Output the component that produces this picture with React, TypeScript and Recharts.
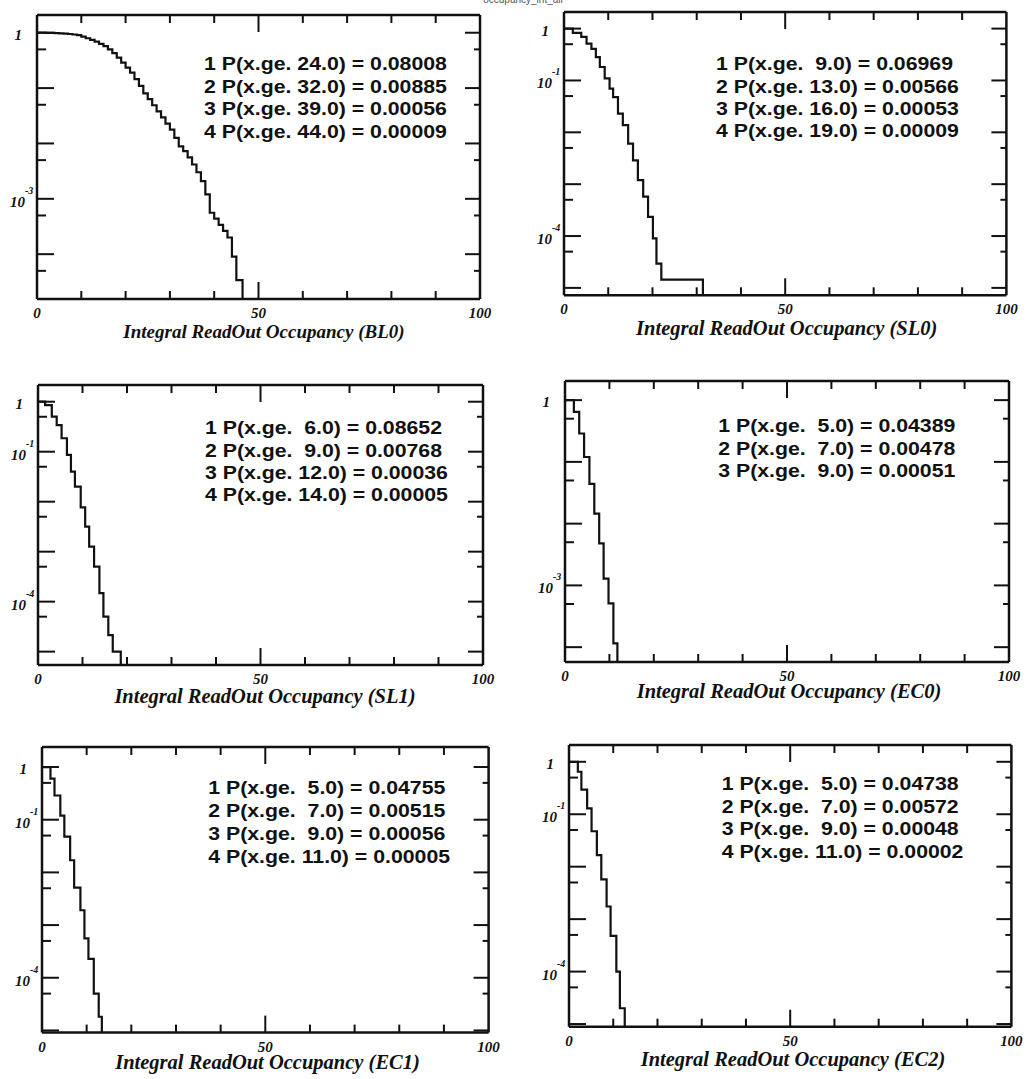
import React from 'react';
import { LineChart, Line, XAxis, YAxis } from 'recharts';

// value used for empty bins (zero entries) on the log axis
const FLOOR = 1e-9;

// ---------------- data: integral occupancy P(x >= bin), step edges ----------------
const BL0_X = [0,1,2,3,4,5,6,7,8,9,10,11,12,13,14,15,16,17,18,19,20,21,22,23,24,25,26,27,28,29,30,31,32,33,34,35,36,37,38,39,40,41,42,43,44,45,46.4];
const BL0_P = [1,1,0.995,0.991,0.984,0.975,0.964,0.948,0.929,0.902,0.851,0.794,0.741,0.692,0.631,0.575,0.501,0.427,0.355,0.288,0.234,0.191,0.145,0.110,0.08008,0.0631,0.0490,0.0380,0.0295,0.0229,0.0178,0.0126,0.00885,0.00724,0.00562,0.00417,0.00302,0.00209,0.00120,0.00056,0.000437,0.000339,0.000263,0.000200,0.00009,0.000034,0];

const SL0_X = [0,2.0,3.9,5.1,6.2,7.2,8.1,9.2,10.3,11.1,12.2,13.3,14.5,15.6,16.7,17.9,19.0,20.1,20.9,22.0,31.4];
const SL0_P = [1,0.83,0.692,0.513,0.407,0.282,0.182,0.110,0.06969,0.0479,0.0229,0.0138,0.00603,0.00288,0.00120,0.000575,0.000234,0.00009,0.0000295,0.0000145,0];

const SL1_X = [0,1.6,3.1,4.2,5.3,6.5,7.4,8.3,9.6,10.6,11.5,12.6,13.8,14.7,15.8,16.8,18.6];
const SL1_P = [1,0.851,0.501,0.339,0.186,0.08652,0.0398,0.0200,0.00768,0.00316,0.00126,0.0005,0.000148,0.00005,0.0000214,0.00001,0];

const EC0_X = [0,2.0,3.2,4.3,5.5,6.6,7.7,8.7,9.8,10.9,11.8];
const EC0_P = [1,0.646,0.288,0.120,0.04389,0.0145,0.00478,0.00129,0.00051,0.000115,0];

const EC1_X = [0,1.9,2.8,4.1,5.0,6.3,7.2,8.6,9.5,10.4,11.6,12.7,13.4];
const EC1_P = [1,0.603,0.288,0.120,0.04755,0.0170,0.00515,0.00191,0.00056,0.000229,0.00005,0.0000182,0];

const EC2_X = [0,2.0,2.8,4.1,5.1,6.3,7.3,8.5,9.4,10.7,11.5,12.6];
const EC2_P = [1,0.646,0.295,0.129,0.04738,0.0166,0.00572,0.00174,0.00048,0.0001,0.00002,0];

// ---------------- texts ----------------
const BL0_STATS = ['1 P(x.ge. 24.0) = 0.08008', '2 P(x.ge. 32.0) = 0.00885', '3 P(x.ge. 39.0) = 0.00056', '4 P(x.ge. 44.0) = 0.00009'];
const SL0_STATS = ['1 P(x.ge.  9.0) = 0.06969', '2 P(x.ge. 13.0) = 0.00566', '3 P(x.ge. 16.0) = 0.00053', '4 P(x.ge. 19.0) = 0.00009'];
const SL1_STATS = ['1 P(x.ge.  6.0) = 0.08652', '2 P(x.ge.  9.0) = 0.00768', '3 P(x.ge. 12.0) = 0.00036', '4 P(x.ge. 14.0) = 0.00005'];
const EC0_STATS = ['1 P(x.ge.  5.0) = 0.04389', '2 P(x.ge.  7.0) = 0.00478', '3 P(x.ge.  9.0) = 0.00051'];
const EC1_STATS = ['1 P(x.ge.  5.0) = 0.04755', '2 P(x.ge.  7.0) = 0.00515', '3 P(x.ge.  9.0) = 0.00056', '4 P(x.ge. 11.0) = 0.00005'];
const EC2_STATS = ['1 P(x.ge.  5.0) = 0.04738', '2 P(x.ge.  7.0) = 0.00572', '3 P(x.ge.  9.0) = 0.00048', '4 P(x.ge. 11.0) = 0.00002'];

const TITLE_PREFIX = 'Integral ReadOut Occupancy';
const PAGE_TITLE = 'occupancy_int_all';

// ---------------- axes ----------------
const X_TICKS = [0,10,20,30,40,50,60,70,80,90,100];
const X_LABELS = [0,50,100];
const Y_DECADES = [1,0.1,0.01,0.001,0.0001,0.00001,0.000001];
const Y_HALVES = [0.5,0.05,0.005,0.0005,0.00005,0.000005];

const SERIF = "'Liberation Serif','Times New Roman',Times,serif";
const SANS = "'Liberation Sans',Arial,Helvetica,sans-serif";

type PanelCfg = {
  name: string;
  x: number[];
  p: number[];
  stats: string[];
  labels: Record<number, string>; // decade exponent -> label
  frame: { l: number; t: number; r: number; b: number };
  yDomain: [number, number];
  statsPos: [number, number, number]; // left, first line center, spacing
  titlePos: [number, number, number]; // center x, center y, font size
};

const PANELS: PanelCfg[] = [
  { name: 'BL0', x: BL0_X, p: BL0_P, stats: BL0_STATS, labels: { 0: '1', [-3]: '-3' },
    frame: { l: 37, t: 15, r: 480, b: 299 }, yDomain: [1.55e-5, 2.09],
    statsPos: [204, 63.3, 22.5], titlePos: [264, 332, 19] },
  { name: 'SL0', x: SL0_X, p: SL0_P, stats: SL0_STATS, labels: { 0: '1', [-1]: '-1', [-4]: '-4' },
    frame: { l: 564.3, t: 11.7, r: 1006.7, b: 295 }, yDomain: [7.2e-6, 2.09],
    statsPos: [716, 63.3, 22.3], titlePos: [786.7, 329, 20.5] },
  { name: 'SL1', x: SL1_X, p: SL1_P, stats: SL1_STATS, labels: { 0: '1', [-1]: '-1', [-4]: '-4' },
    frame: { l: 38, t: 385, r: 483, b: 665 }, yDomain: [5.4e-6, 2.16],
    statsPos: [205, 427.3, 22.2], titlePos: [265, 697, 20.5] },
  { name: 'EC0', x: EC0_X, p: EC0_P, stats: EC0_STATS, labels: { 0: '1', [-3]: '-3' },
    frame: { l: 565, t: 380.7, r: 1009, b: 661.7 }, yDomain: [5.75e-5, 2.04],
    statsPos: [718.3, 425, 22.5], titlePos: [789, 692, 20.5] },
  { name: 'EC1', x: EC1_X, p: EC1_P, stats: EC1_STATS, labels: { 0: '1', [-1]: '-1', [-4]: '-4' },
    frame: { l: 41.7, t: 746.7, r: 488.3, b: 1032.3 }, yDomain: [9.1e-6, 2.4],
    statsPos: [208.3, 787.3, 22.8], titlePos: [267.5, 1063, 20.5] },
  { name: 'EC2', x: EC2_X, p: EC2_P, stats: EC2_STATS, labels: { 0: '1', [-1]: '-1', [-4]: '-4' },
    frame: { l: 569.3, t: 745, r: 1011.7, b: 1026.7 }, yDomain: [8.9e-6, 2.09],
    statsPos: [721.7, 783.3, 22.5], titlePos: [793, 1059.5, 20.5] },
];

const INK = '#111';

const isDecade = (v: number) => Y_DECADES.includes(v);

const makeLeftTick = (labels: Record<number, string>) => (props: any) => {
  const { x, y, payload } = props;
  const v = payload.value as number;
  const major = isDecade(v);
  const len = major ? 17 : 9;
  const exp = Math.round(Math.log10(v));
  const lab = major ? labels[exp] : undefined;
  return (
    <g>
      <line x1={x} x2={x + len} y1={y} y2={y} stroke={INK} strokeWidth={2} />
      {lab === '1' && (
        <text x={x - 15} y={y + 7} textAnchor="end" fontFamily={SERIF} fontWeight="bold" fontStyle="italic" fontSize={15} fill={INK}>1</text>
      )}
      {lab && lab !== '1' && (
        <g>
          <text x={x - 12} y={y + 8} textAnchor="end" fontFamily={SERIF} fontWeight="bold" fontStyle="italic" fontSize={15} fill={INK}>10</text>
          <text x={x - 12} y={y - 5} textAnchor="start" fontFamily={SERIF} fontWeight="bold" fontStyle="italic" fontSize={10} fill={INK}>{lab}</text>
        </g>
      )}
    </g>
  );
};

const RightTick = (props: any) => {
  const { x, y, payload } = props;
  const len = isDecade(payload.value) ? 15 : 6;
  return <line x1={x - len} x2={x} y1={y} y2={y} stroke={INK} strokeWidth={2} />;
};

const BottomTick = (props: any) => {
  const { x, y, payload } = props;
  const v = payload.value as number;
  const len = v === 50 ? 17 : 8;
  const edge = v === 0 || v === 100;
  return (
    <g>
      {!edge && <line x1={x} x2={x} y1={y} y2={y - len} stroke={INK} strokeWidth={2} />}
      {X_LABELS.includes(v) && (
        <text x={x} y={y + 19} textAnchor="middle" fontFamily={SERIF} fontWeight="bold" fontStyle="italic" fontSize={15} fill={INK}>{v}</text>
      )}
    </g>
  );
};

const TopTick = (props: any) => {
  const { x, y, payload } = props;
  const v = payload.value as number;
  if (v === 0 || v === 100) return <g />;
  const len = v === 50 ? 17 : 8;
  return <line x1={x} x2={x} y1={y} y2={y + len} stroke={INK} strokeWidth={2} />;
};

const ML = 60, MT = 10, MR = 22, MB = 45;

function Panel({ cfg }: { cfg: PanelCfg }) {
  const { l, t, r, b } = cfg.frame;
  const W = r - l + ML + MR;
  const H = b - t + MT + MB;
  const data = cfg.x.map((x, i) => ({ x, p: cfg.p[i] > 0 ? cfg.p[i] : FLOOR }));
  const [lo, hi] = cfg.yDomain;
  const yTicks = [...Y_DECADES, ...Y_HALVES].filter((v) => v >= lo && v <= hi).sort((a, c) => c - a);
  const axisLine = { stroke: INK, strokeWidth: 2.5 };
  return (
    <div style={{ position: 'absolute', left: l - ML, top: t - MT, width: W, height: H }}>
      <LineChart width={W} height={H} data={data} margin={{ top: MT - 1, right: MR - 1, bottom: 0, left: 0 }}>
        <XAxis xAxisId="b" dataKey="x" type="number" domain={[0, 100]} allowDataOverflow ticks={X_TICKS} interval={0}
          height={MB} axisLine={axisLine} tickLine={false} tickSize={0} tickMargin={0} tick={BottomTick} />
        <XAxis xAxisId="t" orientation="top" dataKey="x" type="number" domain={[0, 100]} allowDataOverflow ticks={X_TICKS} interval={0}
          height={1} axisLine={axisLine} tickLine={false} tickSize={0} tickMargin={0} tick={TopTick} />
        <YAxis yAxisId="l" scale="log" type="number" domain={[lo, hi]} allowDataOverflow ticks={yTicks} interval={0}
          width={ML} axisLine={axisLine} tickLine={false} tickSize={0} tickMargin={0} tick={makeLeftTick(cfg.labels)} />
        <YAxis yAxisId="r" orientation="right" scale="log" type="number" domain={[lo, hi]} allowDataOverflow ticks={yTicks} interval={0}
          width={1} axisLine={axisLine} tickLine={false} tickSize={0} tickMargin={0} tick={RightTick} />
        <Line xAxisId="b" yAxisId="l" dataKey="p" type="stepAfter" stroke={INK} strokeWidth={2.2}
          dot={false} activeDot={false} isAnimationActive={false} />
        <Line xAxisId="t" yAxisId="r" dataKey="p" type="stepAfter" stroke="none" strokeOpacity={0}
          dot={false} activeDot={false} isAnimationActive={false} legendType="none" />
      </LineChart>
    </div>
  );
}

function Overlay() {
  return (
    <svg width={1027} height={1079} style={{ position: 'absolute', left: 0, top: 0, pointerEvents: 'none' }}>
      <text x={523} y={3} textAnchor="middle" fontFamily={SANS} fontSize={10} fill="#555">{PAGE_TITLE}</text>
      {PANELS.map((cfg) => (
        <g key={cfg.name}>
          <text x={cfg.titlePos[0]} y={cfg.titlePos[1] + 6} textAnchor="middle" fontFamily={SERIF} fontWeight="bold"
            fontStyle="italic" fontSize={cfg.titlePos[2]} fill={INK}>{`${TITLE_PREFIX} (${cfg.name})`}</text>
          {cfg.stats.map((s, i) => (
            <text key={i} transform={`translate(${cfg.statsPos[0]},${cfg.statsPos[1] + 7 + i * cfg.statsPos[2]}) scale(1.12,1)`}
              fontFamily={SANS} fontWeight="bold" fontSize={19} fill={INK} style={{ whiteSpace: 'pre' }}>{s}</text>
          ))}
        </g>
      ))}
    </svg>
  );
}

export default function App() {
  return (
    <div style={{ position: 'absolute', left: 0, top: 0, width: 1027, height: 1079, background: '#fff', overflow: 'hidden' }}>
      {PANELS.map((cfg) => <Panel key={cfg.name} cfg={cfg} />)}
      <Overlay />
    </div>
  );
}
